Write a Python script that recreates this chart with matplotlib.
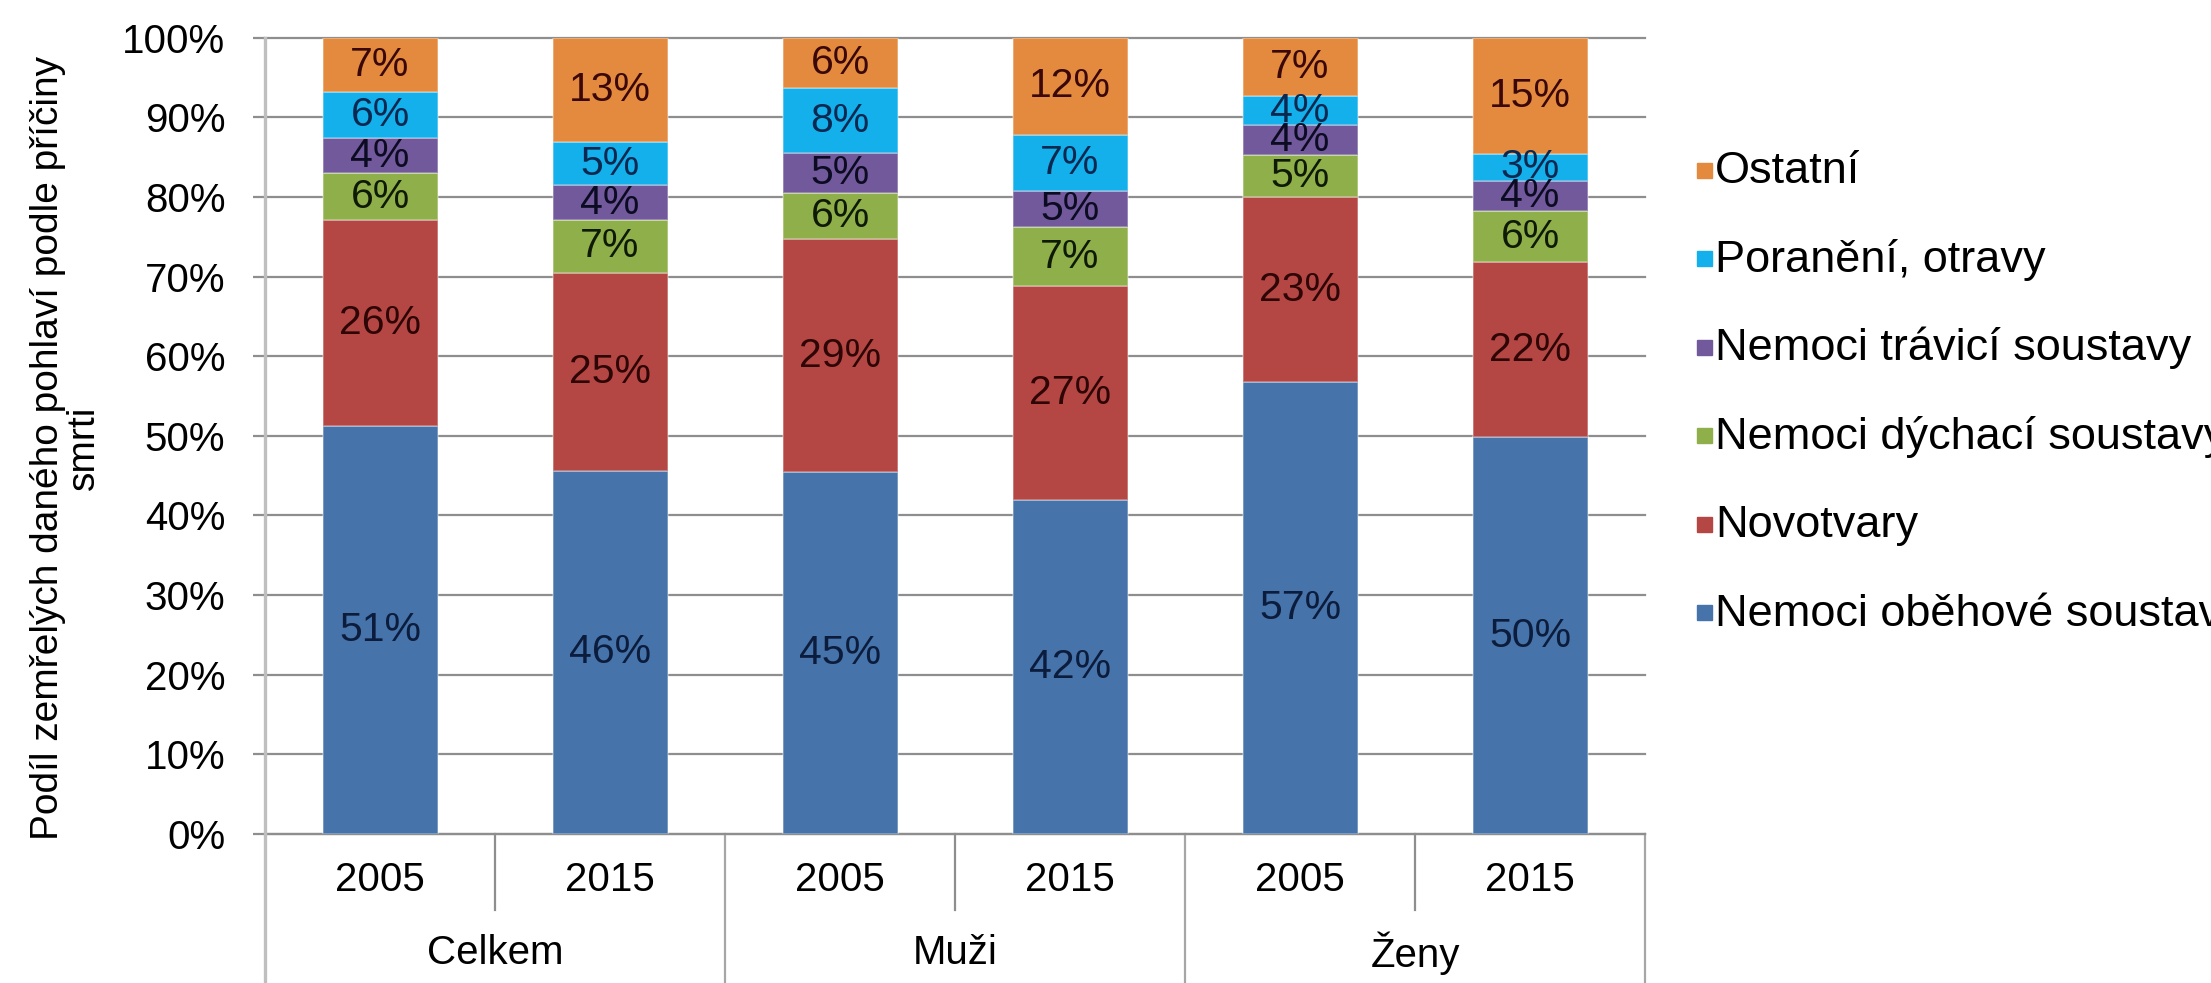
import numpy as np
import matplotlib
matplotlib.use("Agg")
import matplotlib.pyplot as plt
from matplotlib.patches import Rectangle
from matplotlib.transforms import blended_transform_factory

groups = ["Celkem", "Muži", "Ženy"]
years = ["2005", "2015"]
causes = ["Nemoci oběhové soustavy", "Novotvary", "Nemoci dýchací soustavy",
          "Nemoci trávicí soustavy", "Poranění, otravy", "Ostatní"]

# shares (%) per bar: Celkem 2005, Celkem 2015, Muži 2005, Muži 2015, Ženy 2005, Ženy 2015
obehova = [51.2, 45.6, 45.4, 41.9, 56.7, 49.8]
novotvary = [25.9, 24.9, 29.3, 26.9, 23.3, 22.0]
dychaci = [5.9, 6.6, 5.8, 7.4, 5.3, 6.4]
travici = [4.4, 4.4, 5.0, 4.6, 3.7, 3.8]
poraneni = [5.8, 5.4, 8.2, 7.0, 3.7, 3.4]
ostatni = [6.8, 13.1, 6.3, 12.2, 7.3, 14.6]
series = [obehova, novotvary, dychaci, travici, poraneni, ostatni]

colors = ["#4673a9", "#b44744", "#8faf4b", "#72599b", "#13b0ec", "#e38a3e"]
text_colors = ["#0c1c3c", "#2e0606", "#0f1a05", "#0b0b22", "#0a2850", "#3a0808"]

plt.rcParams["font.family"] = ["Liberation Sans", "DejaVu Sans"]

W, H = 2211, 983
fig = plt.figure(figsize=(22.1101, 9.8301), dpi=100)
fig.patch.set_facecolor("white")
ax = fig.add_axes([265 / W, 1 - 834 / H, (1645 - 265) / W, (834 - 37.7) / H])

x = np.arange(6) + 0.5
bottom = np.zeros(6)
for vals, col, tcol in zip(series, colors, text_colors):
    vals = np.array(vals)
    ax.bar(x, vals, width=0.5, bottom=bottom, color=col,
           edgecolor=(1, 1, 1, 0.35), linewidth=1.2, zorder=3)
    for xi, b, v in zip(x, bottom, vals):
        ax.text(xi, b + v / 2, f"{v:.0f}%", ha="center", va="center",
                fontsize=29.5, color=tcol, zorder=5)
    bottom += vals

ax.set_xlim(0, 6)
ax.set_ylim(0, 100)
ax.set_yticks(range(0, 101, 10))
ax.set_yticklabels([f"{t}%" for t in range(0, 101, 10)])
ax.set_xticks([])
ax.tick_params(axis="y", length=8.6, width=1.6, color="#8e8e8e", pad=20,
               labelsize=29, labelcolor="black")
ax.set_axisbelow(True)
ax.yaxis.grid(True, color="#8e8e8e", lw=1.6)
for gl in ax.get_ygridlines():
    gl.set_clip_on(False)
for s in ["top", "right", "left"]:
    ax.spines[s].set_visible(False)
ax.spines["bottom"].set_color("#8e8e8e")
ax.spines["bottom"].set_linewidth(1.6)

tr = blended_transform_factory(ax.transData, ax.transAxes)
yb = -0.19
ax.plot([0, 0], [yb, 1], transform=tr, color="#bfbfbf", lw=2.4, clip_on=False, zorder=4)
for xs in [1, 3, 5]:
    ax.plot([xs, xs], [0, -0.0954], transform=tr, color="#8e8e8e", lw=1.6, clip_on=False)
for xs in [2, 4, 6]:
    ax.plot([xs, xs], [0, yb], transform=tr, color="#a6a6a6", lw=1.6, clip_on=False)

for i, xi in enumerate(x):
    ax.text(xi, -0.058, years[i % 2], transform=tr, ha="center", va="center", fontsize=29)
for g, gc in zip(groups, [1, 3, 5]):
    ax.text(gc, -0.15, g, transform=tr, ha="center", va="center", fontsize=29)

fig.text(66 / W, 1 - 448 / H, "Podíl zemřelých daného pohlaví podle příčiny\nsmrti",
         rotation=90, ha="center", va="center", fontsize=28, linespacing=1.0,
         multialignment="center")

# legend, top entry = top segment
for k, (name, col) in enumerate(reversed(list(zip(causes, colors)))):
    yc = 171 + 88.5 * k
    fig.add_artist(Rectangle((1697 / W, 1 - (yc + 7) / H), 15 / W, 15 / H,
                             transform=fig.transFigure, color=col))
    fig.text(1715 / W, 1 - yc / H, name, ha="left", va="center", fontsize=32.5)

fig.savefig("out.png", dpi=100, facecolor=fig.get_facecolor())
